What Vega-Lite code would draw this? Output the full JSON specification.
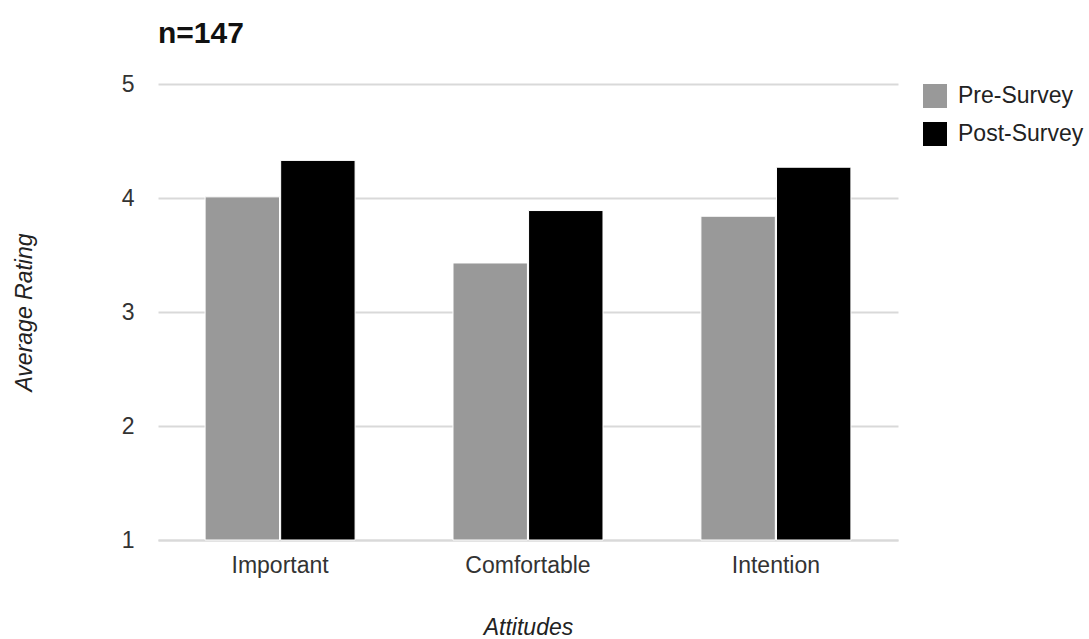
{
  "$schema": "https://vega.github.io/schema/vega-lite/v6.json",
  "width": 740,
  "height": 456,
  "autosize": {"type": "none"},
  "padding": {"left": 158, "top": 84, "right": 191, "bottom": 99},
  "background": "white",
  "title": {
    "text": "n=147",
    "anchor": "start",
    "frame": "group",
    "orient": "top",
    "font": "Liberation Sans",
    "fontSize": 30,
    "fontWeight": "bold",
    "color": "#111111",
    "offset": 24
  },
  "data": {
    "values": [
      {"attitude": "Important", "survey": "Pre-Survey", "rating": 4.01},
      {"attitude": "Important", "survey": "Post-Survey", "rating": 4.33},
      {"attitude": "Comfortable", "survey": "Pre-Survey", "rating": 3.43},
      {"attitude": "Comfortable", "survey": "Post-Survey", "rating": 3.89},
      {"attitude": "Intention", "survey": "Pre-Survey", "rating": 3.84},
      {"attitude": "Intention", "survey": "Post-Survey", "rating": 4.27}
    ]
  },
  "mark": {"type": "bar", "stroke": "white", "strokeWidth": 1},
  "encoding": {
    "x": {
      "field": "attitude",
      "type": "nominal",
      "sort": ["Important", "Comfortable", "Intention"],
      "scale": {"paddingInner": 0.395, "paddingOuter": 0.19},
      "axis": {
        "title": "Attitudes",
        "titleFont": "Liberation Sans",
        "titleFontSize": 23,
        "titleFontStyle": "italic",
        "titleFontWeight": "normal",
        "titleColor": "#222222",
        "titlePadding": 39,
        "labelFont": "Liberation Sans",
        "labelFontSize": 23,
        "labelColor": "#333333",
        "labelAngle": 0,
        "labelPadding": 14,
        "ticks": false,
        "domain": true,
        "domainColor": "#d9d9d9",
        "domainWidth": 2
      }
    },
    "xOffset": {
      "field": "survey",
      "type": "nominal",
      "sort": ["Pre-Survey", "Post-Survey"],
      "scale": {"paddingInner": 0.015}
    },
    "y": {
      "field": "rating",
      "type": "quantitative",
      "scale": {"domain": [1, 5], "nice": false, "zero": false},
      "axis": {
        "title": "Average Rating",
        "titleFont": "Liberation Sans",
        "titleFontSize": 23,
        "titleFontStyle": "italic",
        "titleFontWeight": "normal",
        "titleColor": "#222222",
        "titlePadding": 85,
        "labelFont": "Liberation Sans",
        "labelFontSize": 23,
        "labelColor": "#333333",
        "labelPadding": 24,
        "values": [1, 2, 3, 4, 5],
        "ticks": false,
        "domain": false,
        "grid": true,
        "gridColor": "#d9d9d9",
        "gridWidth": 2
      }
    },
    "y2": {"datum": 1},
    "color": {
      "field": "survey",
      "type": "nominal",
      "sort": ["Pre-Survey", "Post-Survey"],
      "scale": {"domain": ["Pre-Survey", "Post-Survey"], "range": ["#999999", "#000000"]},
      "legend": {
        "title": null,
        "orient": "right",
        "offset": 25,
        "symbolType": "square",
        "symbolSize": 576,
        "symbolStrokeWidth": 0,
        "symbolOpacity": 1,
        "labelFont": "Liberation Sans",
        "labelFontSize": 23,
        "labelColor": "#222222",
        "labelOffset": 11,
        "rowPadding": 14,
        "padding": 0
      }
    }
  },
  "config": {
    "view": {"stroke": null}
  }
}
